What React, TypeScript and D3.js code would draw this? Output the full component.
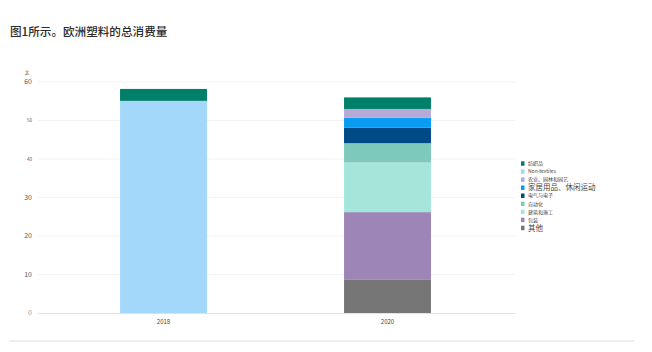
import React from "react";
import * as d3 from "d3";

const years = ["2018", "2020"];
const seriesNames = ["其他", "包装", "建筑和施工", "自动化", "电气与电子", "家居用品、休闲运动", "农业、园林和园艺", "Non-textiles", "纺织品"];
const seriesColors = ["#767676", "#9d85b7", "#a5e6db", "#7dcabc", "#004a87", "#0a9bf2", "#b8aad6", "#a3d8fa", "#007f6a"];
const values2018 = [0, 0, 0, 0, 0, 0, 0, 55.1, 3.1];
const values2020 = [8.6, 17.6, 12.9, 5.0, 4.0, 2.6, 2.3, 0, 3.0];
const legendOrder = ["纺织品", "Non-textiles", "农业、园林和园艺", "家居用品、休闲运动", "电气与电子", "自动化", "建筑和施工", "包装", "其他"];
const legendBig = ["家居用品、休闲运动", "其他"];
const yTicks = [0, 10, 20, 30, 40, 50, 60];
const smallTicks = [40, 50];

const FONT = "'Noto Sans CJK SC', 'Noto Sans', sans-serif";

export default function App() {
  const W = 652, H = 352;
  const y = d3.scaleLinear().domain([0, 60]).range([313, 82]);
  const x = d3.scaleBand<string>().domain(years).range([51.5, 499.5]).paddingInner(0.612).paddingOuter(0.306);
  const rows = years.map((yr, i) => {
    const vals = i === 0 ? values2018 : values2020;
    const o: any = { year: yr };
    seriesNames.forEach((s, j) => (o[s] = vals[j]));
    return o;
  });
  const stack = d3.stack<any>().keys(seriesNames)(rows);
  const color = d3.scaleOrdinal<string, string>().domain(seriesNames).range(seriesColors);

  return (
    <svg width={W} height={H} style={{ position: "absolute", left: 0, top: 0, background: "#fff" }}>
      <rect x={0} y={0} width={W} height={H} fill="#fff" />
      <text x={10} y={35.5} fontFamily={FONT} fontSize={11.6} fontWeight={500} fill="#2a2a2a">图1所示。欧洲塑料的总消费量</text>
      <text x={27} y={74} fontFamily={FONT} fontSize={5} fill="#555" textAnchor="middle">太</text>
      {yTicks.map((t) => (
        <g key={t}>
          {t > 0 && <line x1={38} x2={515} y1={y(t)} y2={y(t)} stroke="#f0f0f0" strokeWidth={0.8} />}
          <text
            x={32}
            y={y(t)}
            dy="0.35em"
            textAnchor="end"
            fontFamily={FONT}
            fontSize={smallTicks.includes(t) ? 4.5 : 7}
            fill={t === 0 ? "#999" : "#555"}
          >
            {t}
          </text>
        </g>
      ))}
      {stack.map((layer) =>
        layer.map((d, i) =>
          d[1] - d[0] > 0 ? (
            <rect
              key={layer.key + i}
              x={x(years[i])}
              width={x.bandwidth()}
              y={y(d[1])}
              height={y(d[0]) - y(d[1])}
              fill={color(layer.key)}
            />
          ) : null
        )
      )}
      <line x1={38} x2={515} y1={313.5} y2={313.5} stroke="#e2e2e2" strokeWidth={1} />
      {years.map((yr) => (
        <text key={yr} x={(x(yr) || 0) + x.bandwidth() / 2} y={324} textAnchor="middle" fontFamily={FONT} fontSize={6} fill="#444">
          {yr}
        </text>
      ))}
      {legendOrder.map((s, i) => {
        const ly = 163.5 + i * 8.05;
        const big = legendBig.includes(s);
        return (
          <g key={s}>
            <rect x={521} y={ly - 2.2} width={3.5} height={4.5} fill={color(s)} />
            <text x={528} y={ly} dy="0.35em" fontFamily={FONT} fontSize={big ? 7.5 : 5} fill="#444">
              {s}
            </text>
          </g>
        );
      })}
      <rect x={9} y={340} width={625} height={2} fill="#eeeeee" />
    </svg>
  );
}
